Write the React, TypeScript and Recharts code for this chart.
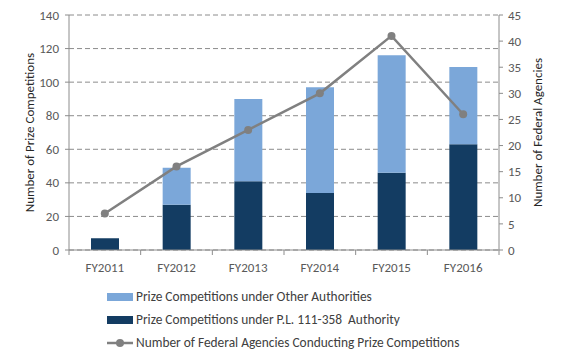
import React from 'react';
import { ComposedChart, Bar, Line, XAxis, YAxis, CartesianGrid, Legend } from 'recharts';

const years = ['FY2011', 'FY2012', 'FY2013', 'FY2014', 'FY2015', 'FY2016'];
const plAuthority = [7, 27, 41, 34, 46, 63];
const otherAuthorities = [0, 22, 49, 63, 70, 46];
const agencies = [7, 16, 23, 30, 41, 26];

const leftTicks = [0, 20, 40, 60, 80, 100, 120, 140];
const rightTicks = [0, 5, 10, 15, 20, 25, 30, 35, 40, 45];

const NAME_OTHER = 'Prize Competitions under Other Authorities';
const NAME_PL = 'Prize Competitions under P.L. 111-358  Authority';
const NAME_AGENCIES = 'Number of Federal Agencies Conducting Prize Competitions';

const data = years.map((year, i) => ({
  year,
  pl: plAuthority[i],
  other: otherAuthorities[i],
  agencies: agencies[i],
}));

const LIGHT = '#7BA7D9';
const DARK = '#133C62';
const LINE = '#808080';
const AXIS = '#8C8C8C';
const FONT = 'Carlito, Calibri, Lato, sans-serif';

const WIDTH = 562;
const HEIGHT = 362;
const LEFT_W = 69;
const RIGHT_W = 63;
const BAND = (WIDTH - LEFT_W - RIGHT_W) / years.length;

function YearTick(props: any) {
  const { x, y, payload, index } = props;
  const last = index === years.length - 1;
  return (
    <g>
      <line x1={x - BAND / 2} x2={x - BAND / 2} y1={y} y2={y + 5} stroke={AXIS} />
      {last && <line x1={x + BAND / 2} x2={x + BAND / 2} y1={y} y2={y + 5} stroke={AXIS} />}
      <text x={x} y={y + 22} textAnchor="middle" fill="#595959" fontSize={13} fontFamily={FONT}>
        {payload.value}
      </text>
    </g>
  );
}

function LegendBox() {
  const rows = [
    { name: NAME_OTHER, color: LIGHT, kind: 'bar' },
    { name: NAME_PL, color: DARK, kind: 'bar' },
    { name: NAME_AGENCIES, color: LINE, kind: 'line' },
  ];
  return (
    <div style={{ fontFamily: FONT, fontSize: 13.4, color: '#404040' }}>
      {rows.map((r) => (
        <div key={r.name} style={{ display: 'flex', alignItems: 'center', height: 23, whiteSpace: 'pre' }}>
          <svg width={29} height={12}>
            {r.kind === 'bar' ? (
              <rect x={0} y={2} width={26} height={8} fill={r.color} />
            ) : (
              <g>
                <line x1={0} x2={26} y1={6} y2={6} stroke={r.color} strokeWidth={2.5} />
                <circle cx={13} cy={6} r={4} fill={r.color} />
              </g>
            )}
          </svg>
          <span>{r.name}</span>
        </div>
      ))}
    </div>
  );
}

export default function App() {
  return (
    <div style={{ position: 'absolute', left: 0, top: 0, background: '#fff' }}>
      <ComposedChart
        width={WIDTH}
        height={HEIGHT}
        data={data}
        margin={{ top: 15, right: 0, bottom: 8, left: 0 }}
        barSize={28}
      >
        <CartesianGrid yAxisId="left" vertical={false} stroke={AXIS} strokeDasharray="5 3" />
        <XAxis
          dataKey="year"
          height={35}
          tickSize={0}
          tickMargin={0}
          tickLine={false}
          tick={<YearTick />}
          stroke={AXIS}
          interval={0}
        />
        <YAxis
          yAxisId="left"
          width={LEFT_W}
          domain={[0, 140]}
          ticks={leftTicks}
          tickSize={4}
          tickMargin={6}
          stroke={AXIS}
          tick={{ fill: '#595959', fontSize: 13, fontFamily: FONT }}
          label={{
            value: 'Number of Prize Competitions',
            angle: -90,
            position: 'insideLeft',
            offset: 29,
            style: { textAnchor: 'middle', fill: '#262626', fontSize: 13, fontFamily: FONT },
          }}
        />
        <YAxis
          yAxisId="right"
          orientation="right"
          width={RIGHT_W}
          domain={[0, 45]}
          ticks={rightTicks}
          tickSize={4}
          tickMargin={5}
          stroke={AXIS}
          tick={{ fill: '#595959', fontSize: 13, fontFamily: FONT }}
          label={{
            value: 'Number of Federal  Agencies',
            angle: -90,
            position: 'insideRight',
            offset: 25,
            style: { textAnchor: 'middle', fill: '#262626', fontSize: 13, fontFamily: FONT, whiteSpace: 'pre' },
          }}
        />
        <Bar yAxisId="left" dataKey="pl" name={NAME_PL} stackId="a" fill={DARK} isAnimationActive={false} />
        <Bar yAxisId="left" dataKey="other" name={NAME_OTHER} stackId="a" fill={LIGHT} isAnimationActive={false} />
        <Line
          yAxisId="right"
          dataKey="agencies"
          name={NAME_AGENCIES}
          stroke={LINE}
          strokeWidth={2.5}
          dot={{ r: 4, fill: LINE, stroke: LINE, strokeWidth: 0 }}
          isAnimationActive={false}
        />
        <Legend
          verticalAlign="bottom"
          content={<LegendBox />}
          wrapperStyle={{ left: 107, width: 420, height: 69 }}
        />
      </ComposedChart>
    </div>
  );
}
